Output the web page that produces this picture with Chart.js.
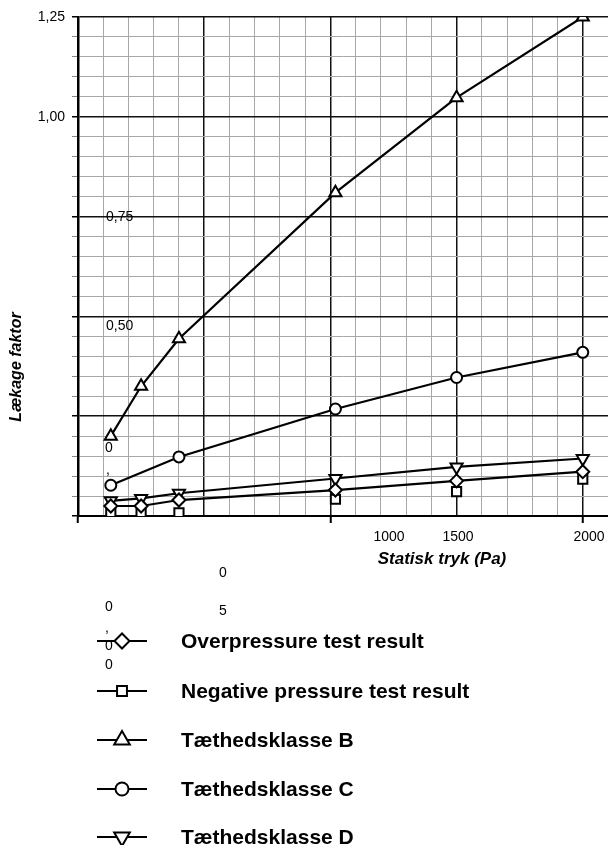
<!DOCTYPE html>
<html>
<head>
<meta charset="utf-8">
<script src="https://cdn.jsdelivr.net/npm/chart.js@4"></script>
<style>
  html, body { margin: 0; padding: 0; background: #fff; }
  #wrap { width: 608px; height: 845px; }
</style>
</head>
<body>
<div id="wrap"><canvas id="leak" width="608" height="845"></canvas></div>
<script>
// tryk (Pa) for hver maaling
const pressures = [130, 250, 400, 1020, 1500, 2000];

const overpressure = [0.025, 0.025, 0.04, 0.065, 0.088, 0.111];
const negative     = [0.007, 0.007, 0.008, 0.042, 0.061, 0.092];
const klasseB      = [0.20, 0.325, 0.444, 0.81, 1.048, 1.25];
const klasseC      = [0.077, null, 0.148, 0.268, 0.347, 0.41];
const klasseD      = [0.038, 0.044, 0.057, 0.094, 0.123, 0.144];

const seriesNames = [
    'Overpressure test result',
    'Negative pressure test result',
    'Tæthedsklasse B',
    'Tæthedsklasse C',
    'Tæthedsklasse D'
];

const yTickLabels = { '1.25': '1,25', '1.00': '1,00' };
const xTickLabels = ['1000', '1500', '2000'];

const FONT = "'Liberation Sans', Arial, sans-serif";

function pts(values) {
    return pressures.map((p, i) => ({ x: p, y: values[i] }));
}

function series(label, values, style, radius, legendRadius, extra) {
    return Object.assign({
        label: label,
        data: pts(values),
        borderColor: '#000',
        borderWidth: 2.2,
        backgroundColor: '#fff',
        pointStyle: style,
        pointRadius: radius,
        legendRadius: legendRadius,
        pointBorderWidth: 2,
        pointBorderColor: '#000',
        pointBackgroundColor: '#fff',
        tension: 0,
        spanGaps: true
    }, extra || {});
}

// tekster der ligger spredt i figuren
const strayText = [
    { t: '0,75', x: 106, y: 217, a: 'left' },
    { t: '0,50', x: 106, y: 326, a: 'left' },
    { t: '0', x: 105, y: 448, a: 'left' },
    { t: ',', x: 106, y: 470, a: 'left' },
    { t: '0', x: 223, y: 573, a: 'center' },
    { t: '5', x: 223, y: 611, a: 'center' },
    { t: '0', x: 109, y: 607, a: 'center' },
    { t: ',', x: 107, y: 628, a: 'center' },
    { t: '0', x: 109, y: 646, a: 'center' },
    { t: '0', x: 109, y: 665, a: 'center' }
];

const overlay = {
    id: 'overlay',
    afterDraw(chart) {
        const ctx = chart.ctx;
        ctx.save();
        ctx.fillStyle = '#000';

        // x-akse tal
        ctx.font = '14px ' + FONT;
        ctx.textAlign = 'center';
        ctx.textBaseline = 'middle';
        const xLabelPos = [389, 458, 589];
        xTickLabels.forEach((t, i) => ctx.fillText(t, xLabelPos[i], 537));

        strayText.forEach(s => {
            ctx.textAlign = s.a;
            ctx.fillText(s.t, s.x, s.y);
        });

        // aksetitler
        ctx.font = 'italic bold 17px ' + FONT;
        ctx.textAlign = 'center';
        ctx.fillText('Statisk tryk (Pa)', 442, 559);

        ctx.save();
        ctx.translate(17, 367);
        ctx.rotate(-Math.PI / 2);
        ctx.font = 'italic bold 16px ' + FONT;
        ctx.fillText('Lækage faktor', 0, 0);
        ctx.restore();

        // forklaring
        const rowY = [641, 691, 740, 789, 837];
        chart.data.datasets.forEach((ds, i) => {
            const y = rowY[i];
            ctx.strokeStyle = '#000';
            ctx.lineWidth = 2.2;
            ctx.beginPath();
            ctx.moveTo(97, y);
            ctx.lineTo(147, y);
            ctx.stroke();
            ctx.fillStyle = '#fff';
            ctx.lineWidth = 2;
            Chart.helpers.drawPoint(ctx, {
                pointStyle: ds.pointStyle,
                rotation: ds.pointRotation || 0,
                radius: ds.legendRadius,
                borderWidth: 2
            }, 122, y);
            ctx.fillStyle = '#000';
            ctx.font = 'bold 21px ' + FONT;
            ctx.textAlign = 'left';
            ctx.textBaseline = 'middle';
            ctx.fillText(ds.label, 181, y + 1);
        });
        ctx.restore();
    }
};

function isMajor(v, step) {
    return Math.abs(Math.round(v / step) * step - v) < 1e-6;
}

new Chart(document.getElementById('leak'), {
    type: 'line',
    data: {
        datasets: [
            series(seriesNames[0], overpressure, 'rectRot', 6.5, 7.5),
            series(seriesNames[1], negative, 'rect', 6.5, 7, { showLine: false }),
            series(seriesNames[2], klasseB, 'triangle', 7, 9),
            series(seriesNames[3], klasseC, 'circle', 5.5, 6.5),
            series(seriesNames[4], klasseD, 'triangle', 7, 9, { pointRotation: 180 })
        ]
    },
    options: {
        responsive: false,
        animation: false,
        events: [],
        layout: { autoPadding: false, padding: { top: 17, right: 0, left: 0, bottom: 0 } },
        plugins: { legend: { display: false }, tooltip: { enabled: false } },
        scales: {
            x: {
                type: 'linear',
                min: 0,
                max: 2100,
                afterFit(scale) { scale.height = 329; },
                border: { color: '#000', width: 2 },
                ticks: { display: false, stepSize: 100 },
                grid: {
                    tickLength: 7,
                    color: c => isMajor(c.tick.value, 500) ? '#111' : '#a8a8a8',
                    lineWidth: c => isMajor(c.tick.value, 500) ? 1.5 : 1,
                    tickColor: c => isMajor(c.tick.value, 1000) ? '#000' : 'rgba(0,0,0,0)',
                    tickWidth: 2
                }
            },
            y: {
                min: 0,
                max: 1.25,
                afterFit(scale) { scale.width = 78; },
                border: { color: '#000', width: 2.5 },
                ticks: {
                    stepSize: 0.05,
                    padding: 7,
                    color: '#000',
                    font: { family: FONT, size: 14 },
                    callback: v => yTickLabels[v.toFixed(2)] || ''
                },
                grid: {
                    tickLength: 6,
                    color: c => isMajor(c.tick.value, 0.25) ? '#111' : '#a8a8a8',
                    lineWidth: c => isMajor(c.tick.value, 0.25) ? 1.5 : 1,
                    tickColor: c => isMajor(c.tick.value, 0.25) ? '#000' : '#888'
                }
            }
        }
    },
    plugins: [overlay]
});
</script>
</body>
</html>
